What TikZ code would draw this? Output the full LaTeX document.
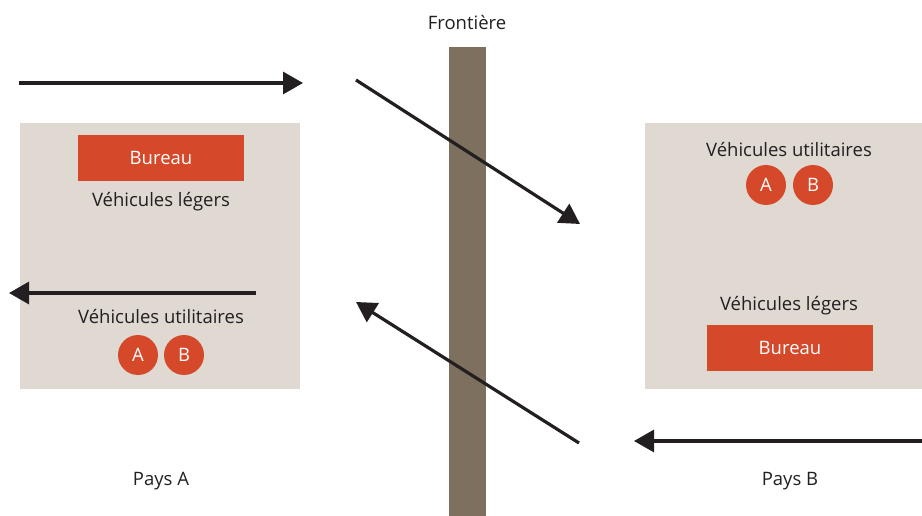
\documentclass[tikz,border=0pt]{standalone}
\usepackage{fontspec}
\setmainfont{Open Sans}
\definecolor{zonegray}{RGB}{223, 217, 210}
\definecolor{borderbrown}{RGB}{125, 112, 94}
\definecolor{officered}{RGB}{213, 72, 42}
\definecolor{textdark}{RGB}{35, 31, 32}
\usetikzlibrary{arrows.meta, positioning}

\begin{document}
\begin{tikzpicture}[
  x=1pt, y=-1pt,
  every node/.style={font=\fontsize{18.5}{21}\selectfont, text=textdark},
  zone/.style={fill=zonegray, draw=none, minimum width=280pt, minimum height=266pt, anchor=north west},
  office/.style={fill=officered, text=white, minimum width=166pt, minimum height=46pt, inner sep=0pt},
  plate/.style={circle, fill=officered, text=white, minimum size=40pt, inner sep=0pt},
  flow/.style={line width=3.2pt, draw=textdark, -{Triangle[length=20pt, width=22pt]}}
]
  \useasboundingbox (0,0) rectangle (922,516);

  % zones on both sides
  \node[zone] (zoneA) at (20,123) {};
  \node[zone] (zoneB) at (645,123) {};

  % border
  \fill[borderbrown] (449,47) rectangle (486,516);
  \node (frontiere) at (467,23) {Frontière};

  % country A
  \node[office] (bureauA) at (161,158) {Bureau};
  \node (legersA) at (161,202) {Véhicules légers};
  \node (utilA) at (161,317) {Véhicules utilitaires};
  \node[plate] (plateAa) at (138,355) {A};
  \node[plate] (plateAb) at (184,355) {B};
  \node (paysA) at (161,481) {Pays A};

  % country B
  \node (utilB) at (789,150) {Véhicules utilitaires};
  \node[plate] (plateBa) at (766,185) {A};
  \node[plate] (plateBb) at (813,185) {B};
  \node (legersB) at (789,306) {Véhicules légers};
  \node[office] (bureauB) at (790,348) {Bureau};
  \node (paysB) at (790,481) {Pays B};

  % flows
  \coordinate (inA) at (19,83);
  \coordinate (outA) at (303,83);
  \coordinate (crossS) at (356,80);
  \coordinate (crossE) at (580,224);
  \coordinate (backS) at (256,293);
  \coordinate (backE) at (9,293);
  \coordinate (inB) at (922,441);
  \coordinate (outB) at (634,441);
  \coordinate (retS) at (579,443);
  \coordinate (retE) at (356,302);

  \draw[flow] (inA) -- (outA);
  \draw[flow] (crossS) -- (crossE);
  \draw[flow] (backS) -- (backE);
  \draw[flow] (inB) -- (outB);
  \draw[flow] (retS) -- (retE);
\end{tikzpicture}
\end{document}
